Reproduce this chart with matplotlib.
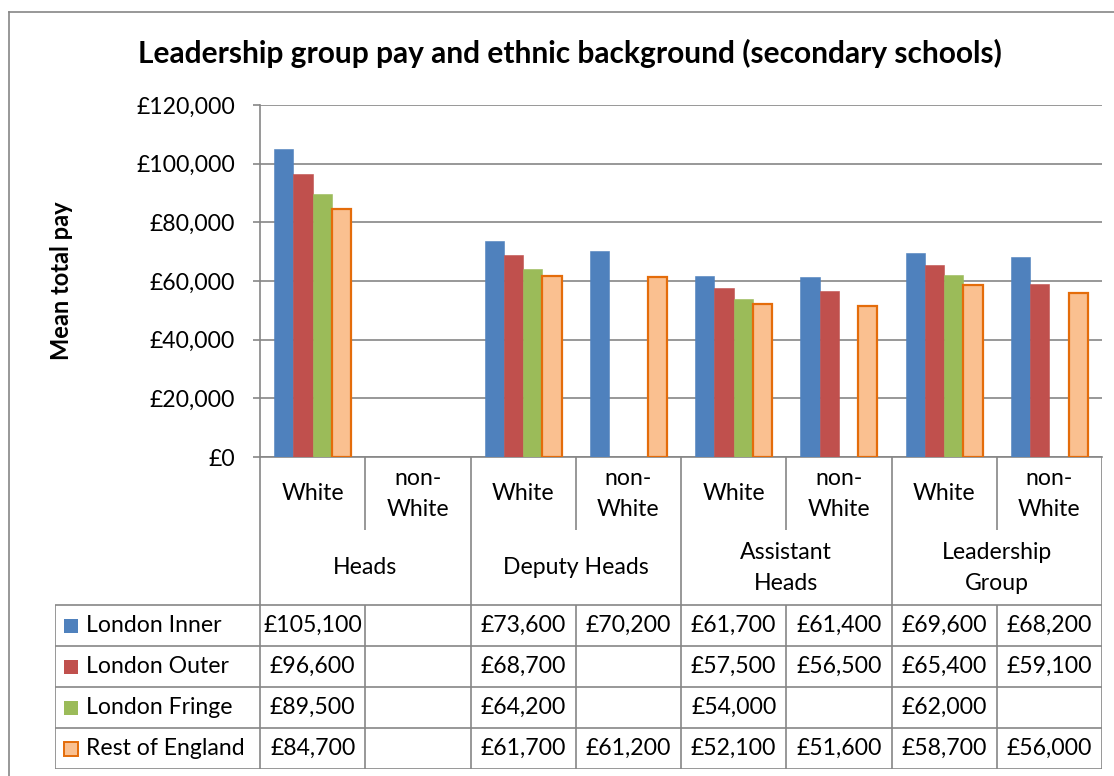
import matplotlib
matplotlib.use("Agg")
import matplotlib.pyplot as plt
from matplotlib.lines import Line2D
from matplotlib.patches import Rectangle
from matplotlib.ticker import FuncFormatter
import numpy as np

plt.rcParams['font.family'] = ['Lato', 'DejaVu Sans']

# data
groups = ['Heads', 'Deputy Heads', 'Assistant\nHeads', 'Leadership\nGroup']
subcats = ['White', 'non-\nWhite'] * 4
series_names = ['London Inner', 'London Outer', 'London Fringe', 'Rest of England']
nan = np.nan
london_inner = [105100, nan, 73600, 70200, 61700, 61400, 69600, 68200]
london_outer = [96600, nan, 68700, nan, 57500, 56500, 65400, 59100]
london_fringe = [89500, nan, 64200, nan, 54000, nan, 62000, nan]
rest_of_england = [84700, nan, 61700, 61200, 52100, 51600, 58700, 56000]
values = [london_inner, london_outer, london_fringe, rest_of_england]

fills = ['#4F81BD', '#C0504D', '#9BBB59', '#FAC090']
edges = ['#4F81BD', '#C0504D', '#9BBB59', '#E46C0A']

W, H = 1114, 776
fig = plt.figure(figsize=(W / 100, H / 100), dpi=100)
grey = '#868686'

# plot area in pixels
L, R, T, B = 260, 1102, 105, 457
ax = fig.add_axes([L / W, (H - B) / H, (R - L) / W, (B - T) / H])

n = len(subcats)
x = np.arange(n)
bw = 0.183
for k in range(4):
    ax.bar(x + (k - 1.5) * bw, values[k], bw, color=fills[k],
           edgecolor=edges[k], linewidth=1.6 if k == 3 else 0.4, zorder=3)

fs = 16.6
ax.set_xlim(-0.5, n - 0.5)
ax.set_ylim(0, 120000)
ax.set_yticks(np.arange(0, 120001, 20000))
ax.yaxis.set_major_formatter(FuncFormatter(lambda v, p: '£{:,.0f}'.format(v)))
ax.tick_params(axis='y', length=5, width=1.2, color=grey, pad=13, labelsize=fs)
ax.set_xticks([])
ax.grid(axis='y', color=grey, linewidth=1.2, zorder=0)
for s in ['top', 'right']:
    ax.spines[s].set_visible(False)
for s in ['left', 'bottom']:
    ax.spines[s].set_color(grey)
    ax.spines[s].set_linewidth(1.2)
ax.set_ylabel('Mean total pay', fontsize=17, fontweight='bold')
ax.yaxis.set_label_coords((73 - L) / (R - L), 0.5)

fig.text(570 / W, 1 - 53 / H, 'Leadership group pay and ethnic background (secondary schools)',
         ha='center', va='center', fontsize=21.5, fontweight='bold')

# data table below the axis
cw = (R - L) / n
TL, TB = 55, 769
tx = fig.add_axes([TL / W, (H - TB) / H, (R - TL) / W, (TB - B) / H])
x0 = -0.5 - (L - TL) / cw
tx.set_xlim(x0, n - 0.5)
tx.set_ylim(TB - B, 0)
tx.axis('off')

sub_bot, head_bot, rh = 73, 148, 41
row_y = [head_bot + i * rh for i in range(5)]
lk = dict(color=grey, linewidth=1.2, solid_capstyle='butt')

for i in range(n + 1):
    xb = i - 0.5
    if i % 2 == 1:
        tx.plot([xb, xb], [0, sub_bot], **lk)
        tx.plot([xb, xb], [head_bot, row_y[-1]], **lk)
    else:
        tx.plot([xb, xb], [0, row_y[-1]], **lk)
tx.plot([x0, x0], [head_bot, row_y[-1]], **lk)
for yy in row_y:
    tx.plot([x0, n - 0.5], [yy, yy], **lk)

for i, s in enumerate(subcats):
    tx.text(i, 37, s, ha='center', va='center', fontsize=fs, linespacing=1.55)
for j, g in enumerate(groups):
    tx.text(2 * j + 0.5, 111, g, ha='center', va='center', fontsize=fs, linespacing=1.55)

for k in range(4):
    yc = row_y[k] + rh / 2
    kx = x0 + 9 / cw
    tx.add_patch(Rectangle((kx, yc - 7), 14 / cw, 14, facecolor=fills[k],
                           edgecolor=edges[k], linewidth=1.4 if k == 3 else 0))
    tx.text(x0 + 31 / cw, yc, series_names[k], ha='left', va='center', fontsize=fs)
    for i in range(n):
        v = values[k][i]
        if not np.isnan(v):
            tx.text(i, yc, '£{:,.0f}'.format(v), ha='center', va='center', fontsize=fs)

# outer chart border
fig.add_artist(Line2D([9 / W, 9 / W], [0, 1 - 12 / H], color=grey, linewidth=1.2,
                      transform=fig.transFigure))
fig.add_artist(Line2D([9 / W, 1], [1 - 12 / H, 1 - 12 / H], color=grey, linewidth=1.2,
                      transform=fig.transFigure))

fig.savefig('out.png', dpi=100)
